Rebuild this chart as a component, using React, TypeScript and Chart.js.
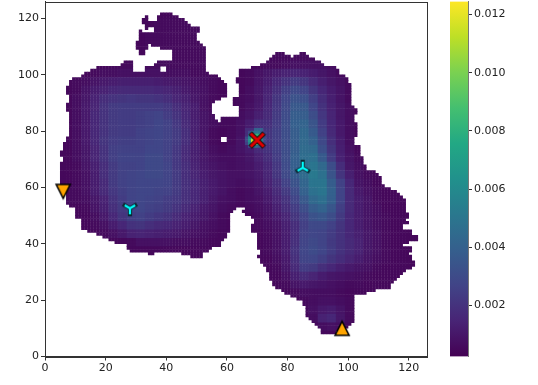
import React, { useEffect, useRef } from "react";
import { Chart, registerables } from "chart.js";

Chart.register(...registerables);

const xyTicks = [0, 20, 40, 60, 80, 100, 120];
const colorTicks = [0.002, 0.004, 0.006, 0.008, 0.01, 0.012];
const vMin = 0.00025;
const vMax = 0.01245;
const axisMax = 126;

const markerTriUp = [{ x: 98, y: 10 }];
const markerTriDown = [{ x: 6, y: 58.6 }];
const markerYDown = [{ x: 28, y: 52.6 }];
const markerYUp = [{ x: 85, y: 67 }];
const markerCross = [{ x: 70, y: 76.8 }];

const viridis = ["#440154", "#482475", "#414487", "#355f8d", "#2a788e", "#21918c", "#22a884", "#44bf70", "#7ad151", "#bddf26", "#fde725"];

// occupied cells: [row, from, to, from, to, ...]
const maskRows: number[][] = [
  [121, 38, 42], [120, 33, 34, 37, 44], [119, 32, 34, 37, 46], [118, 32, 47], [117, 33, 48],
  [116, 33, 34, 36, 51], [115, 31, 32, 36, 51], [114, 31, 50], [113, 31, 50], [112, 31, 50],
  [111, 30, 51], [110, 30, 34, 35, 52], [109, 30, 34, 38, 53], [108, 31, 33, 42, 53],
  [107, 31, 33, 42, 53, 76, 79, 84, 86], [106, 42, 53, 75, 81, 82, 87], [105, 42, 53, 74, 89],
  [104, 26, 29, 37, 53, 73, 91], [103, 25, 29, 36, 53, 71, 92], [102, 17, 29, 33, 38, 40, 53, 68, 96],
  [101, 15, 29, 33, 38, 40, 53, 64, 97], [100, 13, 54, 64, 97], [99, 12, 57, 64, 99],
  [98, 9, 58, 63, 100], [97, 8, 59, 63, 100], [96, 8, 60, 64, 101], [95, 7, 60, 64, 101],
  [94, 7, 60, 64, 101], [93, 7, 60, 64, 101], [92, 8, 60, 64, 101], [91, 8, 58, 62, 101],
  [90, 8, 56, 62, 101], [89, 7, 55, 62, 101], [88, 7, 55, 64, 102], [87, 7, 55, 64, 103],
  [86, 8, 55, 64, 103], [85, 8, 56, 64, 102], [84, 8, 56, 58, 102], [83, 8, 57, 58, 102],
  [82, 8, 103], [81, 8, 103], [80, 8, 103], [79, 8, 103], [78, 8, 103], [77, 7, 58, 60, 102],
  [76, 7, 58, 60, 102], [75, 6, 102], [74, 6, 104], [73, 6, 104], [72, 5, 104], [71, 5, 104],
  [70, 6, 105], [69, 6, 105], [68, 5, 105], [67, 5, 106], [66, 5, 106], [65, 5, 109], [64, 5, 110],
  [63, 5, 111], [62, 5, 111], [61, 5, 111], [60, 5, 112], [59, 7, 114], [58, 7, 116], [57, 7, 117],
  [56, 7, 118], [55, 7, 119], [54, 7, 119], [53, 8, 119], [52, 10, 63, 66, 119], [51, 10, 62, 65, 119],
  [50, 10, 61, 66, 120], [49, 10, 61, 68, 120], [48, 12, 61, 69, 119], [47, 12, 61, 69, 120],
  [46, 12, 61, 68, 118], [45, 12, 61, 68, 118], [44, 14, 61, 68, 121], [43, 17, 60, 70, 121],
  [42, 19, 60, 70, 123], [41, 21, 59, 70, 123], [40, 23, 58, 70, 120], [39, 27, 58, 70, 118],
  [38, 27, 55, 70, 121], [37, 28, 54, 71, 121], [36, 34, 36, 45, 52, 71, 120], [35, 48, 52, 70, 121],
  [34, 71, 121], [33, 71, 122], [32, 72, 122], [31, 73, 121], [30, 73, 119], [29, 74, 118],
  [28, 74, 117], [27, 74, 116], [26, 75, 115], [25, 75, 114], [24, 76, 114], [23, 78, 109],
  [22, 79, 106], [21, 81, 102], [20, 83, 102], [19, 85, 102], [18, 85, 102], [17, 86, 102],
  [16, 86, 102], [15, 86, 102], [14, 86, 102], [13, 87, 102], [12, 88, 102], [11, 89, 101],
  [10, 90, 100], [9, 91, 99], [8, 91, 96],
];

// density x 1e-4, read in 3-unit blocks: [y, firstX, values every 3 units ...]
const heatRows: number[][] = [
  [120, 30, 5, 5, 5, 5, 5, 5],
  [117, 30, 5, 5, 6, 6, 6, 6, 6, 5],
  [114, 30, 5, 6, 6, 6, 6, 6, 6, 6],
  [111, 30, 5, 6, 6, 6, 6, 6, 6, 6],
  [108, 30, 5, 6, 6, 6, 6, 6, 6, 6],
  [105, 42, 6, 6, 6, 6, 0, 0, 0, 0, 0, 0, 5, 6, 6, 6, 6, 6, 5],
  [102, 15, 5, 5, 6, 6, 6, 6, 6, 6, 6, 6, 6, 6, 6, 6, 6, 6, 5, 0, 5, 6, 6, 7, 8, 8, 8, 8, 7, 6, 5, 5],
  [99, 9, 5, 5, 6, 7, 7, 8, 8, 8, 8, 8, 7, 7, 7, 6, 6, 5, 5, 5, 5, 6, 8, 10, 12, 14, 15, 14, 12, 10, 8, 6, 5],
  [96, 6, 5, 6, 7, 9, 11, 12, 13, 13, 13, 13, 12, 11, 10, 9, 8, 7, 6, 5, 5, 5, 6, 9, 12, 16, 20, 23, 21, 17, 13, 10, 8, 6],
  [93, 6, 5, 6, 9, 12, 14, 16, 17, 17, 17, 17, 16, 15, 13, 11, 9, 8, 6, 5, 5, 5, 7, 10, 14, 19, 25, 29, 27, 21, 16, 12, 9, 6],
  [90, 6, 5, 7, 10, 14, 18, 20, 21, 22, 21, 21, 20, 18, 15, 13, 10, 8, 6, 5, 5, 6, 7, 10, 15, 21, 28, 33, 32, 25, 18, 13, 9, 6],
  [87, 6, 5, 7, 11, 15, 20, 23, 24, 24, 24, 24, 24, 22, 18, 15, 12, 8, 6, 5, 5, 6, 8, 11, 16, 22, 29, 36, 36, 28, 20, 14, 10, 7],
  [84, 6, 5, 7, 11, 16, 20, 23, 24, 24, 25, 26, 27, 24, 20, 16, 12, 9, 7, 6, 6, 7, 9, 13, 17, 23, 30, 38, 38, 31, 22, 15, 10, 7],
  [81, 6, 5, 7, 11, 16, 20, 23, 24, 24, 25, 26, 28, 26, 22, 17, 13, 9, 7, 6, 6, 8, 12, 18, 19, 24, 31, 39, 41, 34, 24, 16, 11, 7, 5],
  [78, 6, 5, 7, 11, 16, 20, 23, 24, 24, 26, 27, 28, 26, 23, 18, 13, 9, 6, 5, 6, 8, 18, 40, 21, 25, 31, 38, 43, 37, 26, 17, 11, 7, 5],
  [75, 6, 5, 7, 11, 16, 21, 24, 25, 25, 26, 27, 28, 26, 23, 18, 13, 9, 6, 5, 6, 9, 15, 30, 21, 25, 31, 38, 44, 40, 29, 19, 12, 7, 5],
  [72, 3, 5, 5, 7, 10, 15, 20, 25, 26, 26, 26, 28, 28, 26, 22, 17, 13, 10, 7, 6, 7, 9, 12, 17, 20, 25, 31, 38, 45, 44, 32, 21, 13, 8, 5],
  [69, 3, 5, 5, 7, 10, 15, 20, 25, 27, 27, 27, 29, 29, 26, 22, 17, 13, 10, 8, 7, 7, 8, 10, 14, 18, 24, 31, 39, 46, 47, 37, 24, 14, 9, 6, 5],
  [66, 3, 5, 5, 6, 9, 13, 18, 23, 26, 26, 27, 29, 29, 27, 22, 18, 14, 11, 9, 8, 7, 8, 9, 12, 16, 22, 30, 39, 46, 50, 44, 31, 18, 10, 7, 5, 5],
  [63, 3, 5, 5, 6, 8, 12, 18, 23, 26, 27, 28, 29, 29, 27, 23, 18, 15, 12, 10, 9, 8, 8, 9, 11, 15, 21, 29, 37, 45, 52, 48, 34, 21, 13, 8, 6, 5],
  [60, 3, 5, 5, 6, 8, 12, 17, 23, 26, 27, 28, 28, 28, 27, 23, 19, 16, 13, 11, 9, 8, 7, 8, 10, 14, 19, 26, 33, 42, 50, 50, 38, 26, 16, 9, 7, 5, 5],
  [57, 6, 6, 6, 8, 12, 17, 22, 25, 27, 28, 28, 27, 26, 23, 19, 16, 13, 11, 9, 7, 6, 7, 9, 12, 17, 23, 30, 40, 48, 50, 40, 27, 17, 11, 8, 6, 5, 5],
  [54, 6, 6, 6, 7, 10, 14, 20, 24, 27, 28, 27, 26, 24, 22, 19, 16, 13, 10, 8, 7, 6, 7, 8, 11, 15, 20, 27, 36, 44, 47, 39, 27, 17, 12, 9, 6, 5, 5, 5],
  [51, 9, 5, 6, 9, 13, 19, 23, 27, 28, 26, 25, 23, 20, 17, 14, 11, 9, 7, 6, 5, 6, 7, 9, 13, 18, 24, 31, 38, 41, 35, 25, 17, 12, 9, 7, 5, 5, 5],
  [48, 12, 5, 7, 11, 16, 21, 25, 26, 24, 22, 20, 17, 14, 12, 10, 8, 6, 5, 0, 5, 6, 8, 11, 15, 21, 27, 33, 35, 31, 23, 16, 12, 9, 7, 6, 5, 5],
  [45, 12, 5, 6, 8, 12, 16, 20, 21, 19, 17, 16, 14, 12, 10, 8, 7, 6, 5, 0, 5, 6, 7, 9, 13, 18, 25, 29, 29, 26, 21, 16, 12, 9, 7, 6, 5, 5, 5],
  [42, 18, 6, 8, 11, 14, 15, 14, 13, 12, 11, 9, 8, 7, 6, 5, 5, 0, 0, 5, 6, 8, 12, 18, 26, 28, 27, 24, 20, 16, 13, 10, 8, 6, 5, 5, 5],
  [39, 27, 6, 8, 8, 8, 8, 7, 7, 6, 6, 5, 5, 0, 0, 0, 5, 6, 8, 12, 19, 27, 29, 27, 23, 20, 17, 14, 10, 8, 6, 5, 5, 5],
  [36, 33, 5, 5, 5, 5, 5, 5, 5, 0, 0, 0, 0, 0, 5, 6, 8, 12, 20, 28, 30, 28, 24, 20, 17, 14, 10, 8, 6, 5, 5, 5],
  [33, 72, 5, 7, 11, 19, 27, 28, 25, 21, 18, 15, 12, 9, 7, 6, 5, 5, 5],
  [30, 72, 5, 6, 10, 17, 24, 23, 19, 16, 13, 11, 9, 8, 6, 5, 5, 5],
  [27, 75, 5, 8, 13, 17, 15, 12, 10, 9, 8, 7, 6, 5, 5, 5],
  [24, 75, 5, 6, 9, 11, 10, 9, 8, 7, 6, 6, 5, 5],
  [21, 78, 5, 6, 7, 7, 7, 7, 6, 5],
  [18, 84, 6, 7, 8, 8, 7, 6],
  [15, 84, 6, 8, 11, 12, 9, 6],
  [12, 87, 7, 14, 16, 10, 6],
  [9, 87, 5, 7, 8, 7, 5],
];

// density x 1e-4 around the sharp peak, per cell: [y, firstX, values ...]
const peakRows: number[][] = [
  [79, 67, 30, 45, 50, 50, 35, 24],
  [78, 67, 45, 70, 85, 80, 50, 27],
  [77, 66, 30, 60, 100, 115, 95, 60, 30],
  [76, 66, 30, 65, 115, 122, 100, 55, 28],
  [75, 66, 25, 55, 100, 105, 80, 45, 25],
  [74, 67, 32, 45, 50, 40, 30],
];

const hex = (s: string, i: number) => parseInt(s.slice(i, i + 2), 16);
function viridisAt(v: number): string {
  const t = Math.max(0, Math.min(1, (v - vMin) / (vMax - vMin))) * (viridis.length - 1);
  const i = Math.min(viridis.length - 2, Math.floor(t));
  const f = t - i;
  const a = viridis[i];
  const b = viridis[i + 1];
  const c = [1, 3, 5].map((k) => Math.round(hex(a, k) + (hex(b, k) - hex(a, k)) * f));
  return `rgb(${c[0]},${c[1]},${c[2]})`;
}

function buildCells() {
  const heat = new Map<string, number>();
  for (const r of heatRows) {
    for (let i = 2; i < r.length; i++) if (r[i]) heat.set(`${r[1] + (i - 2) * 3},${r[0]}`, r[i]);
  }
  const peak = new Map<string, number>();
  for (const r of peakRows) {
    for (let i = 2; i < r.length; i++) peak.set(`${r[1] + i - 2},${r[0]}`, r[i]);
  }
  const points: { x: number; y: number }[] = [];
  const colors: string[] = [];
  for (const r of maskRows) {
    for (let s = 1; s < r.length; s += 2) {
      for (let x = r[s]; x < r[s + 1]; x++) {
        const k = `${Math.floor(x / 3) * 3},${Math.floor(r[0] / 3) * 3}`;
        const v = peak.get(`${x},${r[0]}`) ?? heat.get(k) ?? 5;
        points.push({ x: x + 0.5, y: r[0] + 0.5 });
        colors.push(viridisAt(v * 1e-4));
      }
    }
  }
  return { points, colors };
}

function marker(size: number, draw: (c: CanvasRenderingContext2D, m: number) => void) {
  const cv = document.createElement("canvas");
  cv.width = size;
  cv.height = size;
  const c = cv.getContext("2d")!;
  draw(c, size / 2);
  return cv;
}
function triangle(up: boolean) {
  return marker(22, (c, m) => {
    const s = up ? 1 : -1;
    c.beginPath();
    c.moveTo(m, m - s * 7);
    c.lineTo(m + 7, m + s * 7);
    c.lineTo(m - 7, m + s * 7);
    c.closePath();
    c.fillStyle = "#ffa500";
    c.fill();
    c.lineWidth = 1.6;
    c.lineJoin = "miter";
    c.strokeStyle = "#000";
    c.stroke();
  });
}
function tri(up: boolean) {
  return marker(22, (c, m) => {
    const s = up ? -1 : 1;
    const arms = [[0, s * 6], [5.2, -s * 3], [-5.2, -s * 3]];
    for (const [w, col] of [[4.2, "#0b2a33"], [2.2, "#00ffff"]] as [number, string][]) {
      c.strokeStyle = col;
      c.lineWidth = w;
      c.lineCap = w > 3 ? "square" : "butt";
      c.beginPath();
      for (const a of arms) {
        c.moveTo(m, m);
        c.lineTo(m + a[0], m + a[1]);
      }
      c.stroke();
    }
  });
}
function crossMark() {
  return marker(24, (c, m) => {
    for (const [w, col, d] of [[5, "#111", 7], [3, "#e00000", 6.5]] as [number, string, number][]) {
      c.strokeStyle = col;
      c.lineWidth = w;
      c.beginPath();
      c.moveTo(m - d, m - d);
      c.lineTo(m + d, m + d);
      c.moveTo(m + d, m - d);
      c.lineTo(m - d, m + d);
      c.stroke();
    }
  });
}

const font = { family: "'DejaVu Sans'", size: 11 };
const ink = "#333333";

const framePlugin = {
  id: "frame",
  afterDatasetsDraw(chart: any) {
    const { ctx, chartArea: a } = chart;
    ctx.save();
    ctx.strokeStyle = ink;
    ctx.lineWidth = 1;
    ctx.strokeRect(Math.round(a.left) + 0.5, Math.round(a.top) + 0.5, Math.round(a.right - a.left), Math.round(a.bottom - a.top));
    ctx.restore();
  },
};

const noPad = (s: any) => {
  s.paddingTop = 0;
  s.paddingBottom = 0;
  s.paddingLeft = 0;
  s.paddingRight = 0;
};

function axisOptions(extra: any) {
  return {
    type: "linear",
    min: 0,
    max: axisMax,
    afterBuildTicks: (s: any) => {
      s.ticks = xyTicks.map((value) => ({ value }));
    },
    grid: { display: true, drawOnChartArea: false, drawTicks: true, tickLength: 4, color: ink },
    border: { display: true, color: ink },
    ...extra,
  };
}

export default function App() {
  const mainRef = useRef<HTMLCanvasElement>(null);
  const barRef = useRef<HTMLCanvasElement>(null);
  useEffect(() => {
    const { points, colors } = buildCells();
    const mk = (data: any[], pointStyle: any, order: number) => ({ data, pointStyle, order, pointRadius: 8, showLine: false });
    const main = new Chart(mainRef.current!, {
      type: "scatter",
      data: {
        datasets: [
          mk(markerTriUp, triangle(true), 1),
          mk(markerTriDown, triangle(false), 1),
          mk(markerYDown, tri(false), 1),
          mk(markerYUp, tri(true), 1),
          mk(markerCross, crossMark(), 1),
          { data: points, order: 5, pointStyle: "rect", pointRadius: 2.4, pointBorderWidth: 0, pointBackgroundColor: colors, showLine: false },
        ] as any,
      },
      options: {
        animation: false,
        responsive: false,
        events: [],
        layout: { autoPadding: false, padding: { top: 1.5, right: 111, left: 0, bottom: 0 } },
        plugins: { legend: { display: false }, tooltip: { enabled: false } },
        scales: {
          x: axisOptions({
            afterFit: (s: any) => { s.height = 28.5; noPad(s); },
            ticks: { font, color: "#222", padding: 1, maxRotation: 0 },
          }),
          y: axisOptions({
            afterFit: (s: any) => { s.width = 45; noPad(s); },
            ticks: { font, color: "#222", padding: 2 },
          }),
        },
      } as any,
      plugins: [framePlugin],
    });
    const bar = new Chart(barRef.current!, {
      type: "bar",
      data: {
        labels: ["density"],
        datasets: [
          {
            data: [[vMin, vMax]],
            barPercentage: 1,
            categoryPercentage: 1,
            borderWidth: 0,
            backgroundColor: (ctx: any) => {
              const a = ctx.chart.chartArea;
              if (!a) return viridis[0];
              const g = ctx.chart.ctx.createLinearGradient(0, a.bottom, 0, a.top);
              viridis.forEach((c, i) => g.addColorStop(i / (viridis.length - 1), c));
              return g;
            },
          },
        ],
      },
      options: {
        animation: false,
        responsive: false,
        events: [],
        layout: { autoPadding: false, padding: { top: 1.5, left: 450, right: 0, bottom: 28.5 } },
        plugins: { legend: { display: false }, tooltip: { enabled: false } },
        scales: {
          x: { display: false },
          y: {
            position: "right",
            min: vMin,
            max: vMax,
            afterBuildTicks: (s: any) => {
              s.ticks = colorTicks.map((value) => ({ value }));
            },
            afterFit: (s: any) => { s.width = 70; noPad(s); },
            grid: { display: true, drawOnChartArea: false, drawTicks: true, tickLength: 4, color: ink },
            border: { display: true, color: "#777" },
            ticks: { font, color: "#222", padding: 2, callback: (v: any) => Number(v).toFixed(3) },
          },
        },
      } as any,
    });
    return () => {
      main.destroy();
      bar.destroy();
    };
  }, []);
  const style: React.CSSProperties = { position: "absolute", left: 0, top: 0, display: "block" };
  return (
    <div>
      <canvas ref={mainRef} width={538} height={385} style={style} />
      <canvas ref={barRef} width={538} height={385} style={style} />
    </div>
  );
}
